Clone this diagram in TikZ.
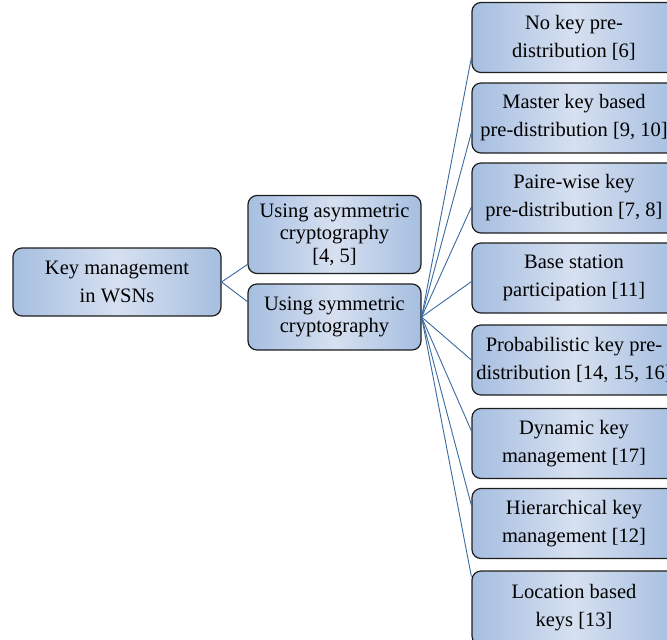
\documentclass[tikz,border=0pt]{standalone}
\usepackage{fontspec}
\setmainfont{Liberation Serif}
\definecolor{boxedge}{RGB}{166,190,224}
\definecolor{boxmid}{RGB}{214,224,240}
\definecolor{linkc}{RGB}{58,106,160}
\definecolor{bordc}{RGB}{30,30,30}
\tikzset{
  box/.style={draw=bordc, line width=1.2pt, rounded corners=9pt,
    left color=boxedge, right color=boxedge, middle color=boxmid,
    align=center, inner sep=0pt, font=\fontsize{20.5}{28}\selectfont},
  tight/.style={font=\fontsize{20.5}{22.5}\selectfont},
  link/.style={draw=linkc, line width=0.9pt}
}
\begin{document}
\begin{tikzpicture}[x=1pt,y=-1pt]
\useasboundingbox (0,0) rectangle (667,640);
\clip (0,0) rectangle (667,640);
\node[box, minimum width=208pt, minimum height=68pt] (root) at (117,282) {Key management\\in WSNs};
\node[box, tight, minimum width=173pt, minimum height=78pt] (asym) at (334.5,234.5) {Using asymmetric\\cryptography\\{}[4, 5]};
\node[box, tight, minimum width=173pt, minimum height=66pt] (sym) at (334.5,317) {Using symmetric\\cryptography};
\node[box, minimum width=204pt, minimum height=70pt] (n1) at (574,37.5) {No key pre-\\distribution [6]};
\node[box, minimum width=204pt, minimum height=70pt] (n2) at (574,118) {Master key based\\pre-distribution [9, 10]};
\node[box, minimum width=204pt, minimum height=70pt] (n3) at (574,198) {Paire-wise key\\pre-distribution [7, 8]};
\node[box, minimum width=204pt, minimum height=70pt] (n4) at (574,278) {Base station\\participation [11]};
\node[box, minimum width=204pt, minimum height=70pt] (n5) at (574,360) {Probabilistic key pre-\\distribution [14, 15, 16]};
\node[box, minimum width=204pt, minimum height=70pt] (n6) at (574,443.5) {Dynamic key\\management [17]};
\node[box, minimum width=204pt, minimum height=70pt] (n7) at (574,523.5) {Hierarchical key\\management [12]};
\node[box, minimum width=204pt, minimum height=74pt] (n8) at (574,608) {Location based\\keys [13]};
\draw[link] (root.east) -- (asym.199);
\draw[link] (root.east) -- (sym.170);
\draw[link] (sym.east) -- (n1.191);
\draw[link] (sym.east) -- (n2.188.4);
\draw[link] (sym.east) -- (n3.185.6);
\draw[link] (sym.east) -- (n4.182.8);
\draw[link] (sym.east) -- (n5.180);
\draw[link] (sym.east) -- (n6.173.8);
\draw[link] (sym.east) -- (n7.170);
\draw[link] (sym.east) -- (n8.163.6);
\end{tikzpicture}
\end{document}
